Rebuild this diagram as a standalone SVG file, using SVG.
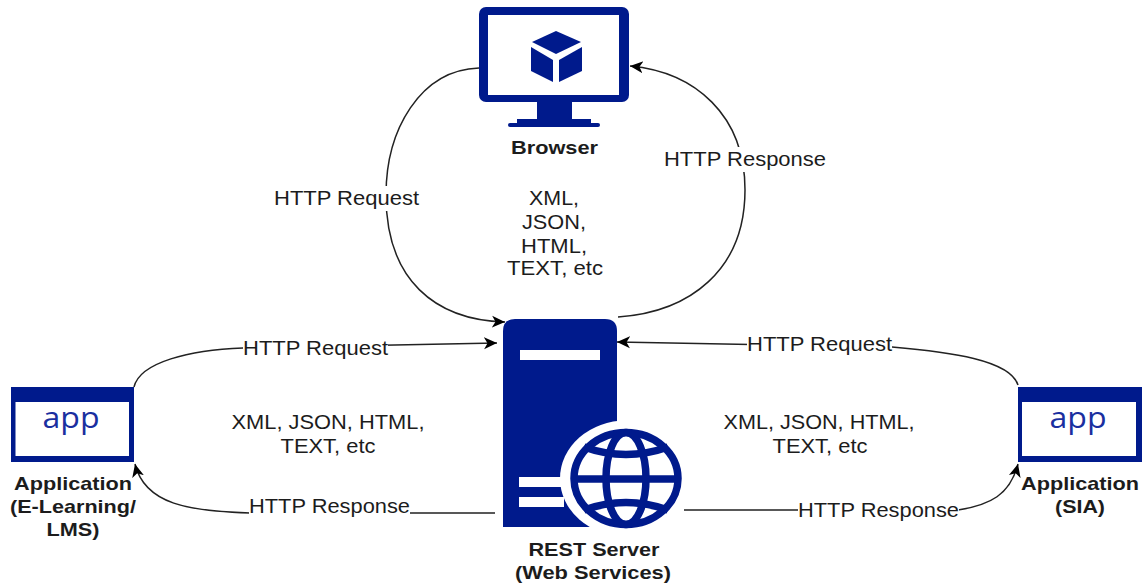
<svg xmlns="http://www.w3.org/2000/svg" width="1146" height="584" viewBox="0 0 1146 584">
<style>
.n{fill:#001a8c}
.w{fill:#fff}
.c{fill:none;stroke:#222;stroke-width:1.5}
text{font-family:"Liberation Sans",Arial,sans-serif;fill:#1c1c1c}
.l{font-size:20px;text-anchor:middle}
.b{font-size:19px;font-weight:bold;text-anchor:middle}
.a{font-family:"Open Sans","Noto Sans",sans-serif;font-size:29px;font-weight:400;fill:#1a2fa0;text-anchor:middle}
</style>
<defs>
<marker id="arrow" markerUnits="userSpaceOnUse" markerWidth="16" markerHeight="14" refX="13" refY="7" orient="auto">
<path d="M0 1 L13 7 L0 13 L3.500 7 Z" fill="#000"/>
</marker>
</defs>
<rect width="1146" height="584" fill="#fff"/>
<g id="connectors">
<path class="c" d="M479 68C420 70 386 130 386 195C386 280 435 320 505 322" marker-end="url(#arrow)"/>
<path class="c" d="M618 317C690 312 745 270 745 190C745 115 695 72 630 66" marker-end="url(#arrow)"/>
<path class="c" d="M134 387C140 362 190 350 243 348L497 343" marker-end="url(#arrow)"/>
<path class="c" d="M1018 385C1010 360 950 352 892 347L617 342" marker-end="url(#arrow)"/>
<path class="c" d="M495 513L410 513H250C190 511 145 505 135 464" marker-end="url(#arrow)"/>
<path class="c" d="M684 510H798L958 510C990 505 1010 495 1018 464" marker-end="url(#arrow)"/>
</g>
<g id="connector-labels">
<rect class="w" x="274" y="186" width="145" height="25"/>
<text class="l" x="346.500" y="205" textLength="145" lengthAdjust="spacingAndGlyphs">HTTP Request</text>
<rect class="w" x="664" y="147" width="162" height="25"/>
<text class="l" x="745" y="166" textLength="162" lengthAdjust="spacingAndGlyphs">HTTP Response</text>
<rect class="w" x="243" y="336" width="145" height="25"/>
<text class="l" x="315.500" y="355" textLength="145" lengthAdjust="spacingAndGlyphs">HTTP Request</text>
<rect class="w" x="747" y="332" width="145" height="25"/>
<text class="l" x="819.500" y="351" textLength="145" lengthAdjust="spacingAndGlyphs">HTTP Request</text>
<rect class="w" x="249" y="494" width="161" height="25"/>
<text class="l" x="329.500" y="513" textLength="161" lengthAdjust="spacingAndGlyphs">HTTP Response</text>
<rect class="w" x="798" y="498" width="161" height="25"/>
<text class="l" x="878.500" y="517" textLength="161" lengthAdjust="spacingAndGlyphs">HTTP Response</text>
<text class="l" x="554" y="205" textLength="50" lengthAdjust="spacingAndGlyphs">XML,</text>
<text class="l" x="554" y="229" textLength="64" lengthAdjust="spacingAndGlyphs">JSON,</text>
<text class="l" x="554" y="253" textLength="66" lengthAdjust="spacingAndGlyphs">HTML,</text>
<text class="l" x="555" y="275" textLength="96" lengthAdjust="spacingAndGlyphs">TEXT, etc</text>
<text class="l" x="328" y="429" textLength="193" lengthAdjust="spacingAndGlyphs">XML, JSON, HTML,</text>
<text class="l" x="328" y="453" textLength="95" lengthAdjust="spacingAndGlyphs">TEXT, etc</text>
<text class="l" x="819" y="429" textLength="191" lengthAdjust="spacingAndGlyphs">XML, JSON, HTML,</text>
<text class="l" x="820" y="453" textLength="95" lengthAdjust="spacingAndGlyphs">TEXT, etc</text>
</g>
<g id="browser">
<rect class="n" x="479" y="7" width="150" height="95" rx="7"/>
<rect class="w" x="488" y="15" width="131" height="80"/>
<rect class="n" x="537" y="101" width="35" height="18"/>
<rect class="n" x="517" y="119" width="74" height="5"/>
<rect class="n" x="508" y="123" width="92" height="4" rx="2"/>
<path class="n" d="M556 31L581 42L556 54L532 42Z"/>
<path class="n" d="M531 47L553 60V82L531 71Z"/>
<path class="n" d="M582 47L559 60V82L582 71Z"/>
<text class="b" x="554.500" y="154" textLength="87" lengthAdjust="spacingAndGlyphs">Browser</text>
</g>
<g id="rest-server">
<path class="n" d="M503 527V331Q503 319 515 319H605Q617 319 617 331V527Z"/>
<ellipse class="w" cx="626" cy="478.500" rx="66" ry="58"/>
<rect class="w" x="520" y="350" width="80" height="10"/>
<rect class="w" x="519" y="477" width="45" height="10"/>
<rect class="w" x="519" y="497" width="45" height="10"/>
<g fill="none" stroke="#001a8c" stroke-width="7.500">
<ellipse cx="626" cy="478.500" rx="52" ry="46"/>
<ellipse cx="626" cy="478.500" rx="20" ry="46"/>
<path d="M574 479H678"/>
<path d="M584 447Q626 462 668 447"/>
<path d="M584 510Q626 495 668 510"/>
</g>
<text class="b" x="594" y="556" textLength="131" lengthAdjust="spacingAndGlyphs">REST Server</text>
<text class="b" x="593" y="579" textLength="156" lengthAdjust="spacingAndGlyphs">(Web Services)</text>
</g>
<g id="app-elearning">
<rect class="n" x="11" y="387" width="123" height="75"/>
<rect class="w" x="15.500" y="402" width="113.500" height="54"/>
<text class="a" x="71" y="428" textLength="57" lengthAdjust="spacingAndGlyphs">app</text>
<text class="b" x="73" y="490" textLength="118" lengthAdjust="spacingAndGlyphs">Application</text>
<text class="b" x="73" y="513" textLength="126" lengthAdjust="spacingAndGlyphs">(E-Learning/</text>
<text class="b" x="73" y="536" textLength="53" lengthAdjust="spacingAndGlyphs">LMS)</text>
</g>
<g id="app-sia">
<rect class="n" x="1018" y="387" width="124" height="75"/>
<rect class="w" x="1022" y="402" width="114" height="54"/>
<text class="a" x="1078" y="428" textLength="57" lengthAdjust="spacingAndGlyphs">app</text>
<text class="b" x="1080" y="490" textLength="118" lengthAdjust="spacingAndGlyphs">Application</text>
<text class="b" x="1080" y="513" textLength="50" lengthAdjust="spacingAndGlyphs">(SIA)</text>
</g>
</svg>
